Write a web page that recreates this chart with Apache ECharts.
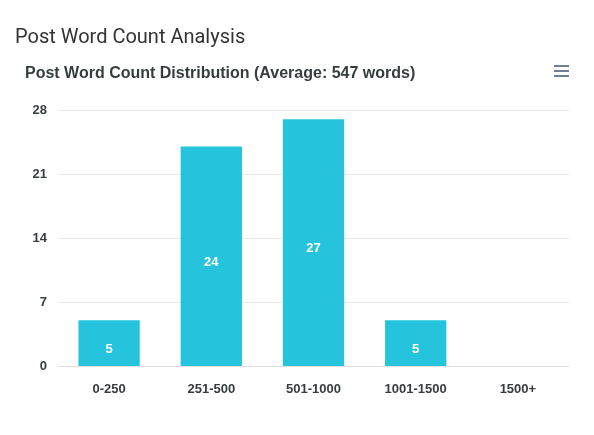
<!DOCTYPE html>
<html>
<head>
<meta charset="utf-8">
<script src="https://cdn.jsdelivr.net/npm/echarts@6/dist/echarts.min.js"></script>
<style>
  html, body { margin: 0; padding: 0; background: #fff; }
  #main { width: 594px; height: 435px; }
</style>
</head>
<body>
<div id="main"></div>
<script>
// word count buckets and how many posts fall in each
var categories = ["0-250", "251-500", "501-1000", "1001-1500", "1500+"];
var postCounts = [5, 24, 27, 5, 0];
var yTicks = [0, 7, 14, 21, 28];

var font = "'Liberation Sans', Arial, sans-serif";
var chart = echarts.init(document.getElementById("main"));
var option = {
  animation: false,
  title: [
    {
      text: "Post Word Count Analysis",
      left: 10,
      top: 23,
      textStyle: { fontFamily: "Roboto", fontSize: 20, fontWeight: "normal", color: "#333" }
    },
    {
      text: "Post Word Count Distribution (Average: 547 words)",
      left: 20,
      top: 61,
      textStyle: { fontFamily: font, fontSize: 16, fontWeight: "bold", color: "#373d3f" }
    }
  ],
  // menu icon in the corner
  graphic: [
    { type: "rect", left: 554, top: 65, shape: { width: 15, height: 2 }, style: { fill: "#6e8192" } },
    { type: "rect", left: 554, top: 70, shape: { width: 15, height: 2 }, style: { fill: "#6e8192" } },
    { type: "rect", left: 554, top: 75, shape: { width: 15, height: 2 }, style: { fill: "#6e8192" } }
  ],
  grid: { left: 58, right: 25, top: 110, bottom: 69 },
  xAxis: {
    type: "category",
    data: categories,
    axisLine: { lineStyle: { color: "#e0e0e0" } },
    axisTick: { length: 6, lineStyle: { color: "#e0e0e0" } },
    axisLabel: {
      margin: 17,
      fontFamily: font,
      fontSize: 13,
      fontWeight: "bold",
      color: "#373d3f"
    }
  },
  yAxis: {
    type: "value",
    min: yTicks[0],
    max: yTicks[yTicks.length - 1],
    interval: 7,
    axisLine: { show: false },
    axisTick: { show: false },
    splitLine: { lineStyle: { color: "#e8e8e8" } },
    axisLabel: {
      margin: 11,
      fontFamily: font,
      fontSize: 13,
      fontWeight: "bold",
      color: "#373d3f"
    }
  },
  series: [
    {
      type: "bar",
      data: postCounts,
      barWidth: "60%",
      itemStyle: { color: "#26c4dc" },
      label: {
        show: true,
        position: "inside",
        offset: [0, 6],
        fontFamily: font,
        fontSize: 13,
        fontWeight: "bold",
        color: "#fff",
        formatter: function (p) { return p.value > 0 ? p.value : ""; }
      }
    }
  ]
};
chart.setOption(option);
</script>
</body>
</html>
